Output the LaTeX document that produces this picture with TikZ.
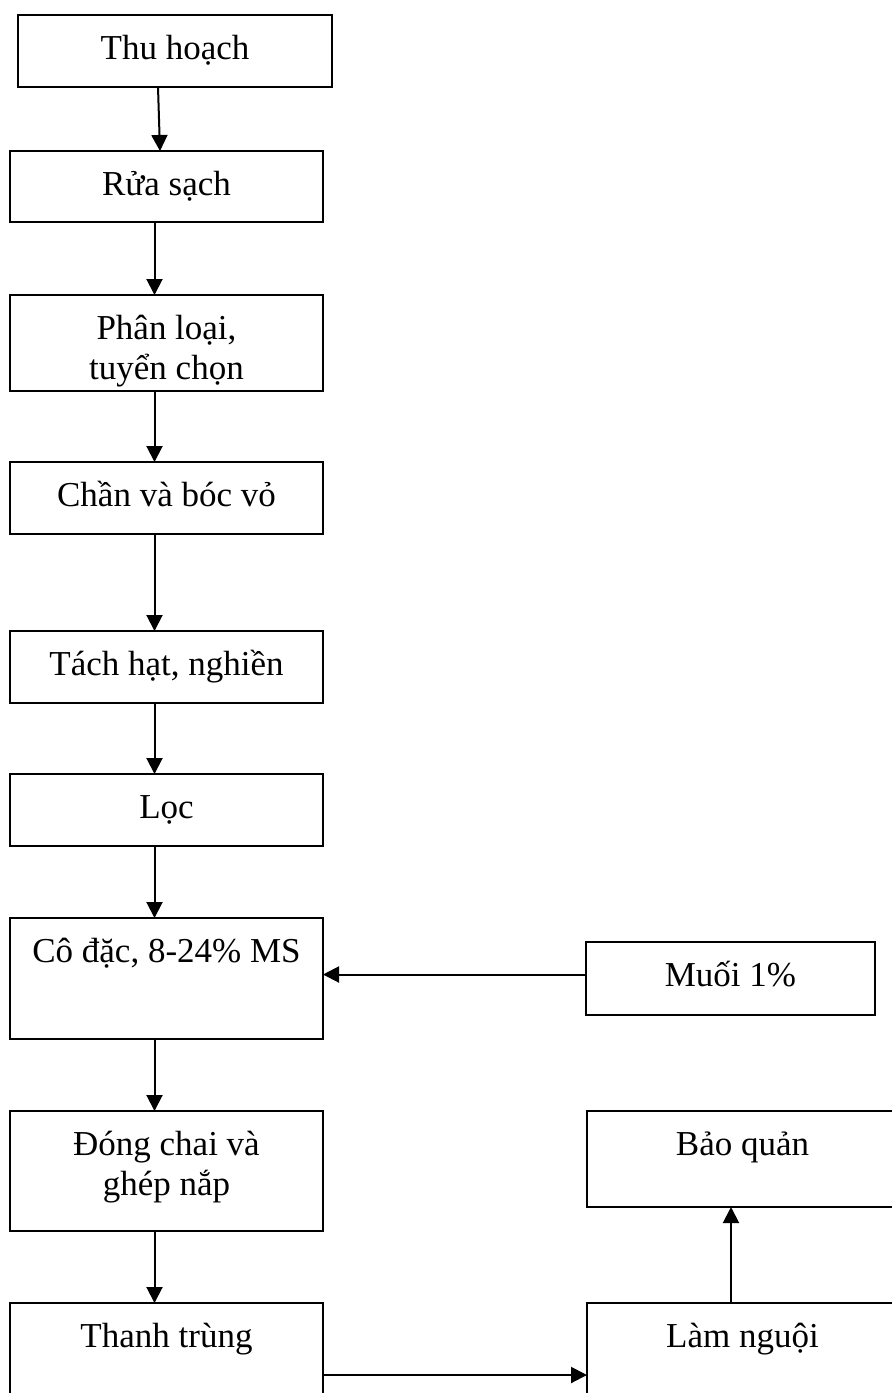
\documentclass[tikz,border=0pt]{standalone}
\usepackage{fontspec}
\setmainfont{Liberation Serif}
\usepackage{tikz}
\usetikzlibrary{positioning,arrows.meta}
\tikzset{
  flow/.style={draw,line width=1.2pt,inner sep=0pt,outer sep=0pt,minimum width=156.5pt,text height=22pt,text depth=14pt},
  twoline/.style={flow,align=flush center,text width=156.5pt},
  side/.style={flow,minimum width=155.5pt},
  arr/.style={-{Triangle[length=8pt,width=8pt]},line width=1pt},
}

\begin{document}
\begin{tikzpicture}[x=0.5pt,y=-0.5pt,node distance=36pt,font=\fontsize{17.5}{20}\selectfont]
  \useasboundingbox (0,0) rectangle (892,1393);
  \node[flow,minimum width=157pt,anchor=north west] (thu) at (18,15) {Thu hoạch};
  \node[flow,text depth=13.5pt,below=32pt of thu,xshift=-4.25pt] (rua) {Rửa sạch};
  \node[twoline,text depth=26pt,below=36.5pt of rua] (phan) {Phân loại,\\ tuyển chọn};
  \node[flow,below=35.5pt of phan] (chan) {Chần và bóc vỏ};
  \node[flow,below=48.5pt of chan] (tach) {Tách hạt, nghiền};
  \node[flow,below=35.5pt of tach] (loc) {Lọc};
  \node[flow,text depth=38.5pt,below=of loc] (codac) {Cô đặc, 8-24\% MS};
  \node[side,minimum width=144.5pt,text depth=14.5pt,right=131.5pt of codac] (muoi) {Muối 1\%};
  \node[twoline,text depth=38pt,below=of codac] (dong) {Đóng chai và\\ ghép nắp};
  \node[flow,text depth=43pt,below=of dong] (thanh) {Thanh trùng};
  \node[side,text depth=26pt,right=132pt of dong.north east,anchor=north west] (bao) {Bảo quản};
  \node[side,text depth=43pt,below=48pt of bao] (lam) {Làm nguội};
  \draw[arr] ([xshift=-8.5pt]thu.south) -- ([xshift=-3.25pt]rua.north);
  \draw[arr] ([xshift=-6pt]rua.south) -- ([xshift=-6pt]phan.north);
  \draw[arr] ([xshift=-6pt]phan.south) -- ([xshift=-6pt]chan.north);
  \draw[arr] ([xshift=-6pt]chan.south) -- ([xshift=-6pt]tach.north);
  \draw[arr] ([xshift=-6pt]tach.south) -- ([xshift=-6pt]loc.north);
  \draw[arr] ([xshift=-6pt]loc.south) -- ([xshift=-6pt]codac.north);
  \draw[arr] ([yshift=2pt]muoi.west) -- ([yshift=2pt]codac.east);
  \draw[arr] ([xshift=-6pt]codac.south) -- ([xshift=-6pt]dong.north);
  \draw[arr] ([xshift=-6pt]dong.south) -- ([xshift=-6pt]thanh.north);
  \draw[arr] ([yshift=-36pt]thanh.north east) -- ([yshift=-36pt]lam.north west);
  \draw[arr] ([xshift=-5.75pt]lam.north) -- ([xshift=-5.75pt]bao.south);
\end{tikzpicture}
\end{document}
